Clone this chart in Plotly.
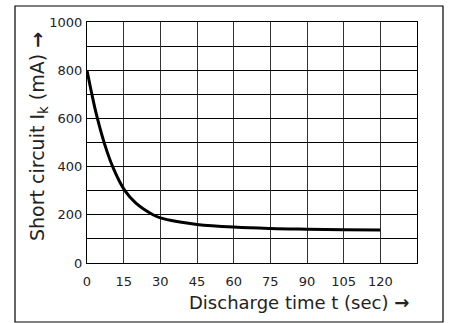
import plotly.graph_objects as go

# Data
t_sec = [0, 2, 4, 7, 10.5, 15.5, 20, 27, 30, 38, 45, 60, 75, 90, 105, 120]
ik_ma = [800, 700, 610, 500, 400, 300, 248, 200, 187, 170, 160, 149, 143, 140, 138, 137]
x_ticks = [0, 15, 30, 45, 60, 75, 90, 105, 120]
y_ticks = [0, 200, 400, 600, 800, 1000]

fig = go.Figure()
fig.add_trace(go.Scatter(x=t_sec, y=ik_ma, mode="lines",
                         line=dict(color="black", width=3, shape="spline", smoothing=1.2),
                         showlegend=False, hoverinfo="skip"))

fnt = dict(family="DejaVu Sans", color="#222")
fig.update_layout(
    width=449, height=323,
    margin=dict(l=87, r=32, t=22, b=60),
    paper_bgcolor="white", plot_bgcolor="white",
    xaxis=dict(range=[0, 135], tickvals=x_ticks, ticktext=[str(v) for v in x_ticks],
               showgrid=True, gridcolor="#333", gridwidth=1,
               showline=True, linecolor="black", linewidth=1, mirror=True,
               zeroline=False, ticks="", tickfont=dict(size=13, **fnt), ticklabelstandoff=6),
    yaxis=dict(range=[0, 1000], tickvals=y_ticks,
               showgrid=True, gridcolor="black", gridwidth=1,
               minor=dict(dtick=100, showgrid=True, gridcolor="black", gridwidth=1),
               showline=True, linecolor="black", linewidth=1, mirror=True,
               zeroline=False, ticks="", tickfont=dict(size=13, **fnt), ticklabelstandoff=1),
    shapes=[dict(type="rect", xref="paper", yref="paper",
                 x0=-72 / 330, x1=356 / 330, y0=-59 / 241, y1=1 + 16 / 241,
                 line=dict(color="black", width=1.2), fillcolor="rgba(0,0,0,0)")],
    annotations=[
        dict(text="Discharge time t (sec) <b>\u2192</b>", xref="paper", yref="paper",
             x=(411 - 87) / 330, y=-(302 - 263) / 241, xanchor="right", yanchor="middle",
             showarrow=False, font=dict(size=18, **fnt)),
        dict(text="Short circuit I<sub>k</sub> (mA) <b>\u2192</b>", xref="paper", yref="paper",
             x=-(87 - 38) / 330, y=(263 - 137) / 241, xanchor="center", yanchor="middle",
             textangle=-90, showarrow=False, font=dict(size=19, **fnt)),
    ],
)
fig.write_html("out.html")
